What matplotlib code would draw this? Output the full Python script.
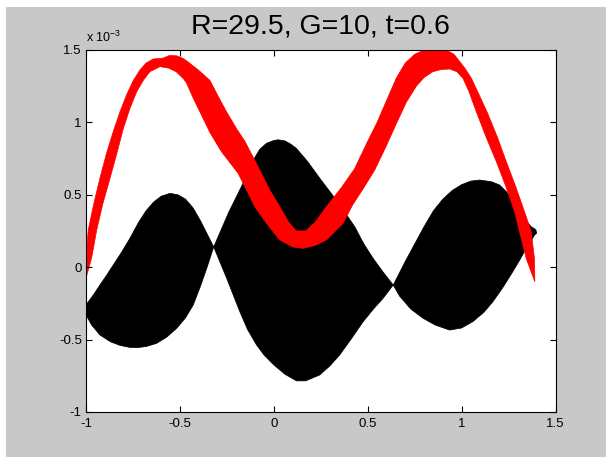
import matplotlib
matplotlib.use('Agg')
import matplotlib.pyplot as plt
import numpy as np
from matplotlib.patches import Rectangle

# band edges, y in units of 1e-3
red_top_x = [-1.0, -0.988, -0.96, -0.926, -0.89, -0.855, -0.82, -0.784, -0.75, -0.713, -0.68,
             -0.642, -0.592, -0.555, -0.518, -0.48, -0.447, -0.40, -0.34, -0.30, -0.252, -0.2,
             -0.154, -0.11, -0.066, -0.02, 0.032, 0.08, 0.12, 0.17, 0.22, 0.28, 0.36, 0.43,
             0.50, 0.55, 0.60, 0.652, 0.70, 0.75, 0.80, 0.86, 0.92, 0.96, 0.99, 1.02, 1.052,
             1.09, 1.135, 1.19, 1.238, 1.29, 1.335, 1.37, 1.388, 1.39]
red_top_y = [0.07, 0.257, 0.43, 0.614, 0.79, 0.936, 1.07, 1.19, 1.285, 1.362, 1.41,
             1.438, 1.443, 1.462, 1.46, 1.44, 1.408, 1.36, 1.29, 1.19, 1.074, 0.96,
             0.87, 0.76, 0.648, 0.53, 0.418, 0.31, 0.25, 0.25, 0.31, 0.418, 0.55, 0.68,
             0.87, 1.0, 1.15, 1.305, 1.41, 1.47, 1.50, 1.51, 1.50, 1.47, 1.42, 1.37, 1.305,
             1.20, 1.074, 0.90, 0.729, 0.55, 0.383, 0.25, 0.06, -0.1]
red_bot_x = [-1.0, -0.97, -0.943, -0.91, -0.872, -0.835, -0.801, -0.765, -0.73, -0.695, -0.66,
             -0.606, -0.56, -0.52, -0.48, -0.464, -0.43, -0.394, -0.34, -0.28, -0.19, -0.101,
             -0.039, 0.032, 0.1, 0.156, 0.22, 0.28, 0.369, 0.42, 0.48, 0.537, 0.6, 0.652,
             0.706, 0.759, 0.80, 0.847, 0.89, 0.936, 0.975, 1.007, 1.04, 1.078, 1.13, 1.185,
             1.235, 1.282, 1.30, 1.344, 1.39]
red_bot_y = [-0.075, 0.064, 0.257, 0.44, 0.614, 0.79, 0.959, 1.10, 1.212, 1.29, 1.35,
             1.385, 1.375, 1.35, 1.30, 1.27, 1.17, 1.074, 0.93, 0.80, 0.648, 0.418,
             0.303, 0.188, 0.14, 0.13, 0.15, 0.188, 0.303, 0.43, 0.55, 0.67, 0.84, 0.99,
             1.14, 1.25, 1.31, 1.35, 1.365, 1.369, 1.35, 1.305, 1.21, 1.074, 0.90, 0.729,
             0.56, 0.383, 0.29, 0.06, -0.1]

blk_top_x = [-1.0, -0.96, -0.926, -0.89, -0.855, -0.81, -0.766, -0.72, -0.68, -0.64, -0.60,
             -0.553, -0.51, -0.47, -0.43, -0.39, -0.355, -0.32, -0.28, -0.24, -0.198, -0.16,
             -0.128, -0.1, -0.074, -0.04, 0.0, 0.023, 0.06, 0.09, 0.12, 0.18, 0.245, 0.30,
             0.351, 0.431, 0.48, 0.529, 0.58, 0.636, 0.70, 0.75, 0.80, 0.85, 0.90, 0.95,
             1.0, 1.05, 1.096, 1.16, 1.202, 1.24, 1.273, 1.31, 1.344, 1.37, 1.395, 1.40]
blk_top_y = [-0.26, -0.19, -0.123, -0.055, 0.015, 0.105, 0.2, 0.31, 0.39, 0.45, 0.49,
             0.51, 0.50, 0.47, 0.41, 0.32, 0.23, 0.14, 0.26, 0.38, 0.49, 0.59,
             0.68, 0.76, 0.815, 0.855, 0.875, 0.88, 0.872, 0.85, 0.821, 0.73, 0.614, 0.52,
             0.43, 0.28, 0.16, 0.061, -0.03, -0.123, 0.04, 0.16, 0.28, 0.39, 0.47, 0.53,
             0.57, 0.595, 0.602, 0.59, 0.568, 0.52, 0.46, 0.39, 0.32, 0.28, 0.26, 0.235]
blk_bot_x = [-1.0, -0.97, -0.926, -0.87, -0.819, -0.77, -0.73, -0.68, -0.624, -0.57, -0.517,
             -0.47, -0.429, -0.39, -0.355, -0.32, -0.25, -0.181, -0.14, -0.092, -0.05, 0.0,
             0.06, 0.121, 0.17, 0.245, 0.30, 0.351, 0.41, 0.476, 0.53, 0.582, 0.636, 0.67,
             0.73, 0.795, 0.86, 0.936, 1.0, 1.06, 1.12, 1.167, 1.22, 1.273, 1.31, 1.344,
             1.37, 1.388, 1.40]
blk_bot_y = [-0.33, -0.40, -0.468, -0.515, -0.54, -0.553, -0.556, -0.548, -0.526, -0.483, -0.422,
             -0.35, -0.261, -0.13, 0.0, 0.14, -0.08, -0.307, -0.43, -0.537, -0.61, -0.675,
             -0.74, -0.785, -0.785, -0.744, -0.68, -0.606, -0.50, -0.376, -0.29, -0.215, -0.123, -0.2,
             -0.29, -0.353, -0.40, -0.434, -0.42, -0.376, -0.31, -0.238, -0.14, -0.03, 0.05, 0.13,
             0.18, 0.222, 0.235]

x_ticks = [-1, -0.5, 0, 0.5, 1, 1.5]
x_labels = ['-1', '-0.5', '0', '0.5', '1', '1.5']
y_ticks = [-1, -0.5, 0, 0.5, 1, 1.5]
y_labels = ['-1', '-0.5', '0', '0.5', '1', '1.5']

plt.rcParams['font.family'] = ['Liberation Sans', 'DejaVu Sans']
plt.rcParams['axes.unicode_minus'] = False
plt.rcParams['mathtext.fontset'] = 'custom'
plt.rcParams['mathtext.rm'] = 'Liberation Sans'

W, H = 606, 459
fig = plt.figure(figsize=(W / 100, H / 100), dpi=100, facecolor='white')
fig.add_artist(Rectangle((6 / W, 2 / H), 600 / W, 450 / H, transform=fig.transFigure,
                         facecolor='#c8c8c8', edgecolor='none', zorder=-5))
ax = fig.add_axes([86 / W, 1 - 412 / H, (555.5 - 86) / W, (412 - 50) / H])

s = 1e-3
ax.fill(np.r_[blk_top_x, blk_bot_x[::-1]], np.r_[blk_top_y, blk_bot_y[::-1]] * s,
        color='black', lw=0.5)
ax.fill(np.r_[red_top_x, red_bot_x[::-1]], np.r_[red_top_y, red_bot_y[::-1]] * s,
        color='red', lw=0.5)

ax.set_xlim(-1, 1.5)
ax.set_ylim(-1 * s, 1.5 * s)
ax.set_xticks(x_ticks)
ax.set_xticklabels(x_labels)
ax.set_yticks(np.array(y_ticks) * s)
ax.set_yticklabels(y_labels)
ax.tick_params(direction='in', top=True, right=True, length=4, width=0.8,
               labelsize=9.5, colors='black')
ax.tick_params(axis='x', pad=4)
ax.tick_params(axis='y', pad=3)
for sp in ax.spines.values():
    sp.set_linewidth(0.8)

ax.text(0.0, 1.022, r'x 10$^{\mathrm{-3}}$', transform=ax.transAxes, fontsize=9)
ax.set_title('R=29.5, G=10, t=0.6', fontsize=20.5, pad=12)

fig.savefig('out.png', dpi=100, facecolor=fig.get_facecolor())
